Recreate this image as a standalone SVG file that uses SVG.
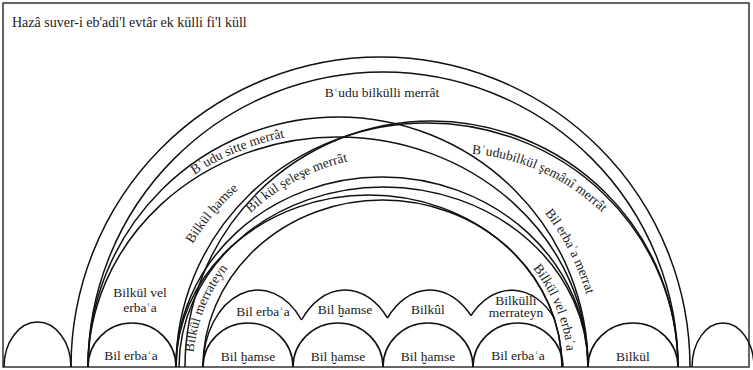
<svg xmlns="http://www.w3.org/2000/svg" width="753" height="370" viewBox="0 0 753 370">
<defs>
<style>
.a{fill:none;stroke:#111;stroke-width:1.5}
.t{font-family:"Liberation Serif","DejaVu Serif",serif;font-size:13.5px;fill:#222}
.m{text-anchor:middle}
</style>
<path id="p_sitte" d="M88 367 A250 235 0 0 1 588 367"/>
<path id="p_hamse" d="M158 367 A237 237 0 0 1 632 367"/>
<path id="p_seles" d="M184 367 A211 211 0 0 1 606 367"/>
<path id="p_merr" d="M193 367 A183 168 0 0 1 559 367"/>
<path id="p_seman" d="M240 367 A214 214 0 0 1 668 367"/>
<path id="p_erbm" d="M89 367 A254 254 0 0 1 597 367"/>
<path id="p_vel" d="M197.5 367 A185 170 0 0 1 567.5 367"/>
</defs>
<rect x="0" y="0" width="753" height="370" fill="#fff"/>
<rect x="3" y="3" width="746" height="364" fill="none" stroke="#333" stroke-width="1.5"/>
<text class="t" x="12" y="27" style="font-size:14px">Hazâ suver-i eb'adi'l evtâr ek külli fi'l küll</text>
<g id="connectors">
<path class="a" d="M71 367 A309.5 310 0 0 1 690 367"/>
<path class="a" d="M88 367 A295 295 0 0 1 678 367"/>
<path class="a" d="M88 367 A250 250 0 0 1 588 367"/>
<path class="a" d="M88 367 A250 230 0 0 1 588 367"/>
<path class="a" d="M185 367 A246.5 246 0 0 1 678 367"/>
<path class="a" d="M176 367 A251 244 0 0 1 678 367"/>
<path class="a" d="M176 367 A206 190 0 0 1 588 367"/>
<path class="a" d="M179 367 A204.5 180 0 0 1 588 367"/>
<path class="a" d="M203 367 A179.5 167 0 0 1 562 367"/>
<path class="a" d="M176 367 A193 172 0 0 1 562 367"/>
</g>
<g id="lower-arches">
<path class="a" d="M4 367 A33.5 45 0 0 1 71 367"/>
<path class="a" d="M88 367 A44 44 0 0 1 176 367"/>
<path class="a" d="M203 367 A45 44 0 0 1 293 367"/>
<path class="a" d="M293 367 A45 44 0 0 1 383 367"/>
<path class="a" d="M383 367 A45 44 0 0 1 473 367"/>
<path class="a" d="M473 367 A45 44 0 0 1 563 367"/>
<path class="a" d="M588 367 A45 44 0 0 1 678 367"/>
<path class="a" d="M692 367 A31 44 0 0 1 754 367"/>
</g>
<g id="upper-arches">
<path class="a" d="M203 367 A55 77 0 0 1 301.5 320"/>
<path class="a" d="M301.5 320 A55 77 0 0 1 387.5 318"/>
<path class="a" d="M387.5 318 A55 77 0 0 1 471 315.7"/>
<path class="a" d="M471 315.7 A55 77 0 0 1 554.5 318.5"/>
</g>
<g id="labels">
<text class="t m" x="382" y="97">Bʿudu bilkülli merrât</text>
<text class="t m"><textPath href="#p_sitte" startOffset="36.5%">Bʿudu sitte merrât</textPath></text>
<text class="t m"><textPath href="#p_hamse" startOffset="22.2%">Bilkül ḫamse</textPath></text>
<text class="t m"><textPath href="#p_seles" startOffset="34.4%">Bil kül şeleşe merrât</textPath></text>
<text class="t m"><textPath href="#p_merr" startOffset="11%">Bilkül merrateyn</textPath></text>
<text class="t m"><textPath href="#p_seman" startOffset="63.5%">Bʿudubilkül şemânî merrât</textPath></text>
<text class="t m"><textPath href="#p_erbm" startOffset="85%">Bil erbaʿa merrat</textPath></text>
<text class="t m"><textPath href="#p_vel" startOffset="89%">Bilkül vel erbaʿa</textPath></text>
<text class="t m" x="140" y="297">Bilkül vel</text>
<text class="t m" x="140" y="312">erbaʿa</text>
<text class="t m" x="131" y="360">Bil erbaʿa</text>
<text class="t m" x="248" y="361">Bil ḫamse</text>
<text class="t m" x="338" y="361">Bil ḫamse</text>
<text class="t m" x="428" y="361">Bil ḫamse</text>
<text class="t m" x="518" y="360">Bil erbaʿa</text>
<text class="t m" x="633" y="361">Bilkül</text>
<text class="t m" x="263" y="316">Bil erbaʿa</text>
<text class="t m" x="345" y="314">Bil ḫamse</text>
<text class="t m" x="428" y="314">Bilkûl</text>
<text class="t m" x="516" y="305">Bilkülli</text>
<text class="t m" x="516" y="317">merrateyn</text>
</g>
</svg>
